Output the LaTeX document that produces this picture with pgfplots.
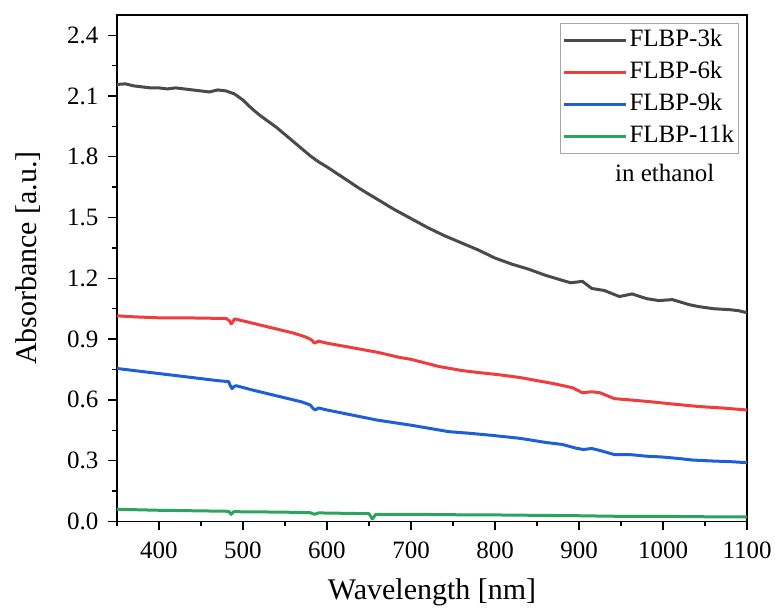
\documentclass[border=0pt]{standalone}
\usepackage{pgfplots}
\pgfplotsset{compat=1.18}
\usepackage{fontspec}
\setmainfont{Liberation Serif}
\definecolor{cblack}{HTML}{4A4A4A}
\definecolor{cred}{HTML}{F03C3C}
\definecolor{cblue}{HTML}{1F5FD6}
\definecolor{cgreen}{HTML}{2CA35E}
\begin{document}
\begin{tikzpicture}
\begin{axis}[
  scale only axis,
  width=631pt, height=507pt,
  xmin=350, xmax=1100, ymin=0, ymax=2.5,
  xtick={400,500,...,1100},
  minor xtick={350,450,...,1050},
  ytick={0,0.3,...,2.41},
  minor ytick={0.15,0.45,...,2.4},
  yticklabel style={/pgf/number format/fixed, /pgf/number format/fixed zerofill, /pgf/number format/precision=1, xshift=-6pt},
  xticklabel style={/pgf/number format/1000 sep={}, yshift=-8pt},
  /pgf/number format/assume math mode=true,
  tick align=outside,
  xtick pos=bottom, ytick pos=left,
  major tick length=9pt, minor tick length=5pt,
  tick style={black, line width=1.4pt},
  axis line style={black, line width=1.4pt},
  ticklabel style={font=\fontsize{25}{30}\selectfont},
  xlabel={Wavelength [nm]},
  ylabel={Absorbance [a.u.]},
  label style={font=\fontsize{30}{36}\selectfont},
  xlabel style={at={(axis description cs:0.5,0)}, anchor=base, yshift=-78pt},
  ylabel style={at={(axis description cs:-0.141,0.52)}, anchor=center},
  legend style={at={(rel axis cs:0.986,0.984)}, anchor=north east,
    draw=gray!70, line width=0.6pt, font=\fontsize{25}{30}\selectfont,
    row sep=2pt, inner sep=2pt,
    nodes={text height=19pt, text depth=7pt, inner sep=2pt}},
  legend cell align=left,
  legend image code/.code={\draw[#1, line width=3.2pt] (0pt,0pt) -- (62pt,0pt);},
  every axis plot/.append style={line width=3pt, line join=round},
]
\addplot[cblack] coordinates {
(350,2.157)(360,2.16)(370,2.15)(380,2.145)(390,2.14)(400,2.14)(410,2.135)(420,2.14)(430,2.135)(440,2.13)(450,2.125)(460,2.12)(470,2.13)(480,2.125)(490,2.11)(500,2.08)(510,2.04)(520,2.005)(530,1.975)(540,1.945)(550,1.91)(560,1.875)(570,1.84)(580,1.805)(590,1.775)(600,1.75)(620,1.695)(640,1.64)(660,1.59)(680,1.54)(700,1.495)(720,1.45)(740,1.41)(760,1.375)(780,1.34)(800,1.30)(820,1.27)(840,1.245)(860,1.215)(880,1.19)(890,1.178)(904,1.185)(915,1.15)(930,1.14)(948,1.11)(963,1.123)(980,1.10)(995,1.09)(1011,1.095)(1031,1.07)(1043,1.06)(1060,1.05)(1080,1.045)(1090,1.04)(1100,1.03)
};
\addlegendentry{FLBP-3k}
\addplot[cred] coordinates {
(350,1.015)(370,1.01)(400,1.005)(430,1.005)(460,1.003)(480,1.002)(484,0.99)(486,0.975)(488,0.985)(490,1.0)(500,0.99)(520,0.97)(540,0.95)(560,0.93)(575,0.91)(582,0.895)(585,0.88)(590,0.89)(600,0.88)(620,0.865)(640,0.85)(660,0.835)(686,0.81)(700,0.80)(733,0.765)(760,0.745)(780,0.735)(805,0.724)(830,0.71)(850,0.695)(870,0.68)(892,0.66)(904,0.635)(915,0.64)(925,0.635)(942,0.606)(960,0.60)(987,0.59)(1010,0.58)(1043,0.567)(1070,0.56)(1100,0.55)
};
\addlegendentry{FLBP-6k}
\addplot[cblue] coordinates {
(350,0.755)(380,0.74)(410,0.725)(440,0.71)(470,0.695)(483,0.69)(485,0.67)(487,0.655)(489,0.665)(492,0.67)(510,0.65)(530,0.63)(550,0.61)(570,0.59)(580,0.575)(583,0.56)(586,0.55)(590,0.56)(600,0.55)(630,0.525)(660,0.50)(700,0.475)(745,0.443)(770,0.435)(796,0.425)(830,0.41)(860,0.39)(880,0.38)(896,0.362)(905,0.355)(915,0.36)(925,0.35)(942,0.33)(960,0.33)(980,0.322)(999,0.318)(1020,0.31)(1035,0.303)(1060,0.298)(1080,0.295)(1100,0.29)
};
\addlegendentry{FLBP-9k}
\addplot[cgreen] coordinates {
(350,0.06)(400,0.055)(450,0.052)(483,0.05)(486,0.035)(489,0.048)(520,0.047)(560,0.045)(580,0.043)(585,0.035)(590,0.042)(620,0.04)(650,0.038)(654,0.012)(658,0.035)(700,0.035)(750,0.033)(800,0.032)(850,0.03)(900,0.028)(950,0.025)(1000,0.025)(1050,0.023)(1100,0.022)
};
\addlegendentry{FLBP-11k}
\node[font=\fontsize{25}{30}\selectfont] at (axis cs:1002,1.72) {in ethanol};
\end{axis}
\path (current axis.south west) ++(-117pt,-90pt) rectangle ++(775pt,612pt);
\end{tikzpicture}
\end{document}
